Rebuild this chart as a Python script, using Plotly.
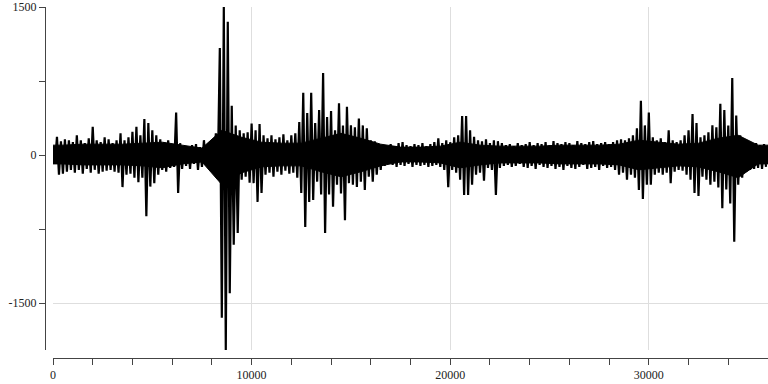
import plotly.graph_objects as go

# Waveform envelope: one (max, min) pair per 200-sample column
STEP = 200
TOP = [60, 185, 140, 160, 150, 130, 200, 150, 120, 170,
       285, 150, 130, 180, 160, 120, 150, 220, 150, 180,
       235, 285, 200, 365, 325, 250, 200, 160, 130, 150,
       110, 430, 120, 90, 80, 100, 110, 80, 150, 90,
       100, 220, 1085, 1500, 1350, 500, 300, 250, 220, 230,
       320, 250, 315, 200, 170, 200, 160, 180, 210, 150,
       200, 220, 335, 630, 425, 630, 325, 455, 830, 385,
       445, 250, 525, 300, 490, 300, 280, 370, 300, 270,
       150, 140, 100, 100, 80, 110, 90, 120, 130, 100,
       90, 110, 100, 120, 90, 110, 130, 170, 120, 150,
       130, 180, 200, 395, 395, 250, 185, 150, 140, 160,
       120, 150, 140, 120, 100, 110, 90, 120, 100, 110,
       130, 100, 120, 110, 130, 100, 140, 120, 110, 130,
       120, 100, 140, 120, 110, 130, 140, 110, 120, 130,
       110, 130, 150, 160, 150, 170, 200, 270, 550, 300,
       430, 180, 150, 170, 130, 250, 150, 130, 150, 200,
       250, 415, 325, 180, 200, 230, 300, 280, 520, 455,
       300, 780, 400, 200, 130, 120, 110, 120, 100, 110]
BOTTOM = [-80, -200, -190, -170, -150, -180, -150, -190, -140, -180,
          -150, -190, -170, -160, -150, -170, -180, -325, -200, -190,
          -230, -275, -230, -620, -320, -285, -200, -150, -170, -130,
          -120, -385, -140, -110, -140, -90, -150, -120, -100, -110,
          -90, -130, -1650, -1976, -1400, -910, -790, -250, -220, -280,
          -285, -475, -385, -200, -180, -220, -170, -200, -160, -190,
          -180, -230, -385, -730, -475, -455, -270, -400, -790, -400,
          -525, -300, -390, -660, -285, -300, -325, -270, -355, -220,
          -270, -200, -150, -110, -90, -100, -120, -100, -110, -90,
          -120, -100, -110, -100, -120, -110, -100, -120, -150, -325,
          -150, -180, -250, -405, -405, -300, -200, -180, -260, -130,
          -150, -405, -130, -110, -100, -120, -110, -90, -120, -130,
          -110, -140, -100, -120, -130, -110, -140, -120, -150, -110,
          -130, -140, -120, -100, -140, -130, -120, -150, -110, -130,
          -120, -150, -200, -180, -250, -200, -230, -355, -445, -300,
          -300, -200, -180, -200, -180, -285, -170, -150, -160, -200,
          -250, -385, -415, -220, -250, -300, -270, -330, -540, -350,
          -490, -880, -300, -230, -170, -150, -140, -130, -140, -120]

# Solid inner band of the trace, one (upper, lower) pair per 1000 samples
CORE_STEP = 1000
CORE_TOP = [100, 110, 110, 110, 120, 130, 100, 70, 250, 180,
            130, 120, 120, 170, 220, 170, 110, 80, 80, 90,
            130, 100, 90, 90, 90, 100, 100, 100, 110, 150,
            130, 110, 120, 170, 200, 100]
CORE_BOTTOM = [-90, -100, -100, -100, -110, -130, -90, -70, -300, -180,
               -120, -110, -110, -170, -220, -170, -110, -70, -70, -80,
               -130, -100, -80, -80, -80, -90, -90, -90, -100, -150,
               -130, -110, -120, -170, -230, -90]

X_MAX = 36000
Y_RANGE = [-1976, 1500]
X_LABEL_TICKS = [0, 10000, 20000, 30000]
Y_LABEL_TICKS = [-1500, 0, 1500]

# inner band outline
core_x = [0] + [k * CORE_STEP + CORE_STEP / 2 for k in range(len(CORE_TOP))] + [X_MAX]
core_hi = [CORE_TOP[0]] + CORE_TOP + [CORE_TOP[-1]]
core_lo = [CORE_BOTTOM[0]] + CORE_BOTTOM + [CORE_BOTTOM[-1]]
poly_x = core_x + core_x[::-1]
poly_y = core_hi + core_lo[::-1]

# trace alternating between each column's maximum and minimum
wave_x, wave_y = [], []
for i, (t, b) in enumerate(zip(TOP, BOTTOM)):
    wave_x += [i * STEP, i * STEP + STEP / 2]
    wave_y += [t, b]

W, H = 768, 384
fig = go.Figure()
fig.add_trace(go.Scatter(x=poly_x, y=poly_y, mode="lines", fill="toself",
                         fillcolor="black", line=dict(color="black", width=1),
                         hoverinfo="skip", showlegend=False))
fig.add_trace(go.Scatter(x=wave_x, y=wave_y, mode="lines",
                         line=dict(color="black", width=2.2),
                         hoverinfo="skip", showlegend=False))

axis_col = "#444"
font = dict(family="Liberation Serif", size=12, color="#222")
fig.update_layout(
    width=W, height=H, margin=dict(l=0, r=0, t=0, b=0),
    paper_bgcolor="white", plot_bgcolor="white",
    xaxis=dict(domain=[53 / W, 1], range=[0, X_MAX], anchor="free",
               position=(H - 358) / H, automargin=False, showline=True,
               linecolor=axis_col, linewidth=1, ticks="outside", ticklen=6,
               tickcolor=axis_col, tickvals=X_LABEL_TICKS,
               ticktext=[str(v) for v in X_LABEL_TICKS],
               tickfont=font, showgrid=True, gridcolor="#dedede", gridwidth=1,
               zeroline=False,
               minor=dict(dtick=2000, tick0=0, ticks="outside", ticklen=6,
                          tickcolor=axis_col, showgrid=False)),
    yaxis=dict(domain=[(H - 350) / H, (H - 7) / H], range=Y_RANGE, anchor="free",
               position=45 / W, automargin=False, showline=True,
               linecolor=axis_col, linewidth=1, ticks="outside", ticklen=6,
               tickcolor=axis_col, tickvals=Y_LABEL_TICKS,
               ticktext=[str(v) for v in Y_LABEL_TICKS],
               tickfont=font, showgrid=True, gridcolor="#dedede", gridwidth=1,
               zeroline=False,
               minor=dict(dtick=750, tick0=0, ticks="outside", ticklen=6,
                          tickcolor=axis_col, showgrid=False)),
)
fig.write_html("out.html")
